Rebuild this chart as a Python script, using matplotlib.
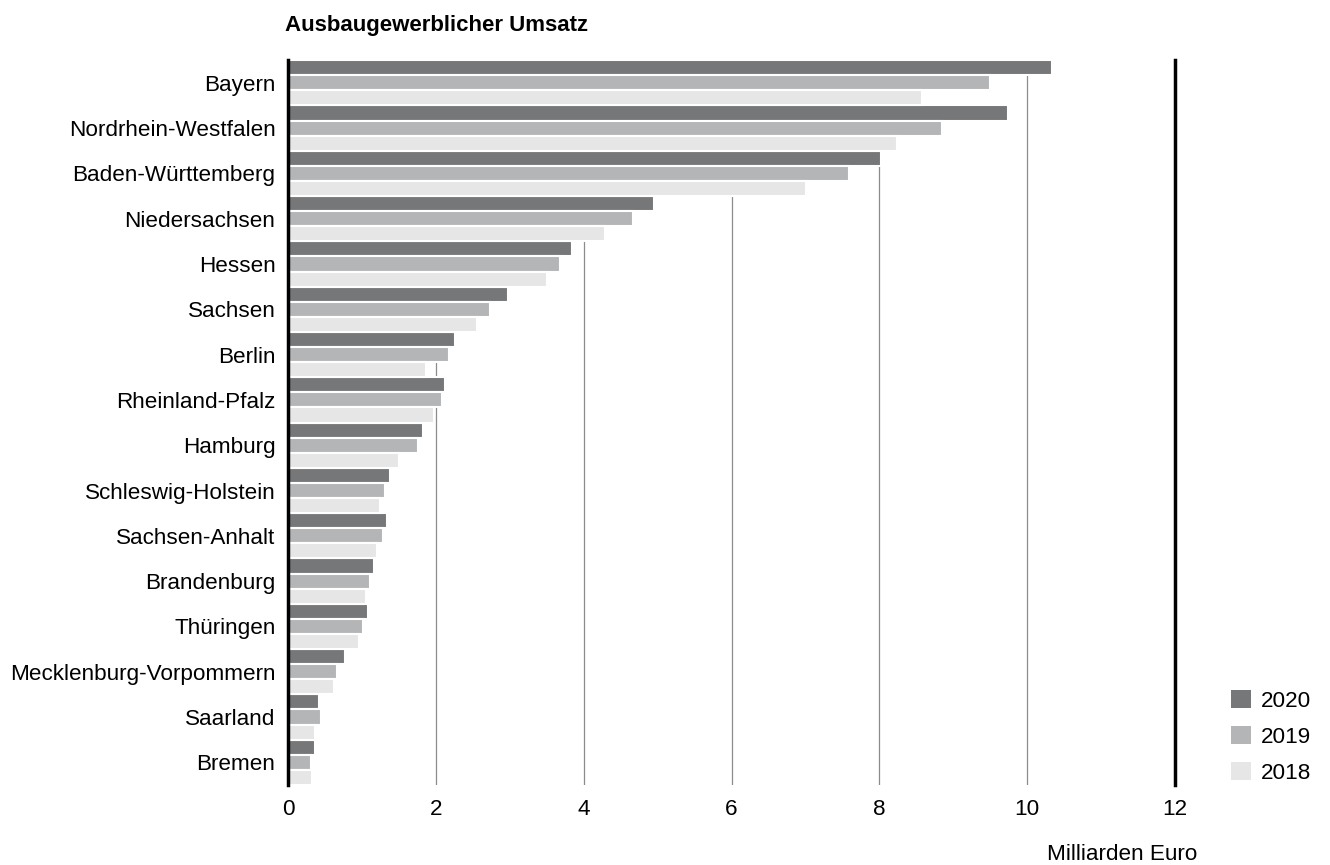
import matplotlib
matplotlib.use('Agg')
import matplotlib.pyplot as plt
import numpy as np

plt.rcParams['font.family'] = ['Liberation Sans', 'DejaVu Sans']

laender = ['Bayern', 'Nordrhein-Westfalen', 'Baden-Württemberg', 'Niedersachsen',
           'Hessen', 'Sachsen', 'Berlin', 'Rheinland-Pfalz', 'Hamburg',
           'Schleswig-Holstein', 'Sachsen-Anhalt', 'Brandenburg', 'Thüringen',
           'Mecklenburg-Vorpommern', 'Saarland', 'Bremen']

# Milliarden Euro
u2020 = [10.34, 9.74, 8.02, 4.95, 3.84, 2.98, 2.26, 2.12, 1.83, 1.38, 1.34, 1.16, 1.08, 0.77, 0.42, 0.37]
u2019 = [9.49, 8.85, 7.59, 4.67, 3.68, 2.73, 2.18, 2.08, 1.76, 1.31, 1.29, 1.11, 1.01, 0.66, 0.45, 0.31]
u2018 = [8.58, 8.24, 7.01, 4.29, 3.50, 2.56, 1.87, 1.98, 1.50, 1.24, 1.20, 1.06, 0.96, 0.62, 0.37, 0.32]

years = ['2020', '2019', '2018']
colors = ['#767779', '#b4b5b6', '#e6e6e6']
fs = 16.2

fig = plt.figure(figsize=(13.3, 8.65), dpi=100)
ax = fig.add_axes([0.2165, 0.0925, 0.667, 0.838])

y = np.arange(len(laender))
w = 1 / 3.
for k, (vals, col, lab) in enumerate(zip([u2020, u2019, u2018], colors, years)):
  ax.barh(y + (k - 1) * w, vals, height=w, color=col, edgecolor='white',
          linewidth=1.5, label=lab, zorder=2)

ax.set_xlim(0, 12)
ax.set_ylim(len(laender) - 0.5, -0.5)
ax.set_xticks(range(0, 13, 2))
ax.set_yticks(y)
ax.set_yticklabels(laender)
ax.tick_params(axis='both', length=0, labelsize=fs)
ax.tick_params(axis='y', pad=9)
ax.tick_params(axis='x', pad=10)

ax.set_axisbelow(True)
ax.grid(axis='x', color='#8c8c8c', linewidth=0.9)
ax.grid(axis='y', visible=False)

for s in ['top', 'bottom']:
  ax.spines[s].set_visible(False)
for s in ['left', 'right']:
  ax.spines[s].set_linewidth(2.5)
  ax.spines[s].set_color('black')
  ax.spines[s].set_zorder(3)

fig.text(285 / 1330., 1 - 26 / 865., 'Ausbaugewerblicher Umsatz', fontsize=16,
         fontweight='bold', va='center', ha='left')
fig.text(1197 / 1330., 1 - 855 / 865., 'Milliarden Euro', fontsize=fs,
         va='center', ha='right')

leg = ax.legend(loc='upper left', bbox_to_anchor=(1231 / 1330., 1 - 690 / 865.),
                bbox_transform=fig.transFigure, frameon=False, fontsize=fs,
                handlelength=0.88, handleheight=0.88, handletextpad=0.45,
                labelspacing=0.62, borderpad=0, borderaxespad=0)
for h in leg.legend_handles:
  h.set_linewidth(0)

fig.savefig('out.png', dpi=100)
